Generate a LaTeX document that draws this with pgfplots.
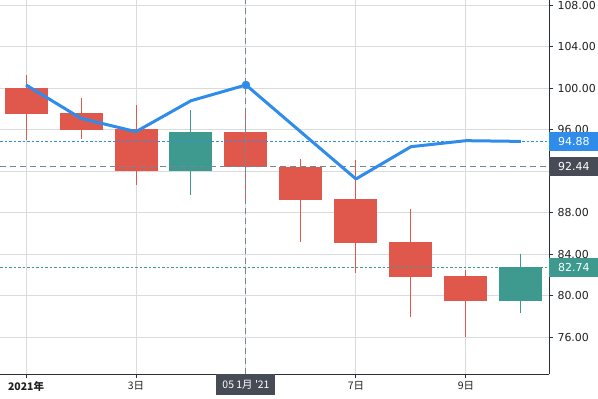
\documentclass[border=0pt]{standalone}
\usepackage{fontspec}
\setmainfont{DejaVu Sans}
\newfontfamily\cjk{Noto Sans CJK SC}
\usepackage{pgfplots}
\pgfplotsset{compat=1.18}
\definecolor{cred}{HTML}{E0574C}
\definecolor{cgreen}{HTML}{3E9A8E}
\definecolor{cblue}{HTML}{2F8CEA}
\definecolor{cross}{HTML}{758696}
\definecolor{cdark}{HTML}{464B55}
\definecolor{cgrid}{HTML}{D8DCDE}
\definecolor{caxis}{HTML}{2A2E39}
\definecolor{ctext}{HTML}{202020}
% color, day, low, body low, body high, high
\newcommand\candle[6]{%
\addplot[#1, line width=1bp, forget plot] coordinates {(#2,#3) (#2,#6)};
\addplot[#1, line width=43bp, line cap=butt, forget plot] coordinates {(#2,#4) (#2,#5)};}
\begin{document}
\begin{tikzpicture}
\useasboundingbox (0,0) rectangle (598bp,399bp);
\begin{axis}[
  at={(0,25bp)}, anchor=south west, scale only axis,
  width=549bp, height=374bp,
  xmin=0.527, xmax=10.51, ymin=72.46, ymax=108.51,
  axis x line*=bottom, axis y line*=right,
  axis line style={caxis, line width=1bp},
  xtick={1,3,5,7,9},
  xticklabels={{\bfseries 2021年},{3日},{},{7日},{9日}},
  xticklabel style={font=\cjk\fontsize{10.5}{12}\selectfont, text=ctext},
  ytick={76,80,...,108},
  yticklabels={76.00,80.00,84.00,88.00,,96.00,100.00,104.00,108.00},
  yticklabel style={font=\fontsize{11}{13}\selectfont, text=ctext, anchor=west, xshift=1bp},
  grid=major, major grid style={cgrid, line width=1bp},
  tick style={caxis, line width=1bp}, tick align=outside, major tick length=4bp,
]
\candle{cred}{1}{95.02}{97.55}{100.00}{101.28}
\candle{cred}{2}{95.11}{95.98}{97.65}{99.07}
\candle{cred}{3}{90.68}{92.03}{96.08}{98.39}
\candle{cgreen}{4}{89.72}{92.03}{95.79}{97.90}
\candle{cred}{5}{88.80}{92.44}{95.79}{97.60}
\candle{cred}{6}{85.22}{89.23}{92.44}{93.19}
\candle{cred}{7}{82.23}{85.12}{89.33}{93.09}
\candle{cred}{8}{77.99}{81.84}{85.19}{88.37}
\candle{cred}{9}{76.06}{79.50}{81.94}{82.49}
\candle{cgreen}{10}{78.37}{79.50}{82.74}{84.03}
% price lines
\addplot[draw=cblue, line width=1.6bp, line cap=butt, dash pattern=on 2.5bp off 2bp] coordinates {(0.527,94.88) (10.51,94.88)};
\addplot[draw=cgreen, line width=1.6bp, line cap=butt, dash pattern=on 2.5bp off 2bp] coordinates {(0.527,82.74) (10.51,82.74)};
% crosshair
\addplot[draw=cross, line width=1bp, dash pattern=on 6bp off 4bp] coordinates {(0.527,92.44) (10.51,92.44)};
\addplot[draw=cross, line width=1bp, dash pattern=on 6bp off 4bp] coordinates {(5,72.46) (5,108.51)};
% line series
\addplot[cblue, line width=3bp, line join=round] coordinates {(1,100.32)(2,97.10)(3,95.82)(4,98.80)(5,100.32)(6,95.78)(7,91.26)(8,94.37)(9,94.95)(10,94.88)};
\addplot[cblue, only marks, mark=*, mark size=4bp] coordinates {(5,100.32)};
\coordinate (pb) at (axis cs:10.51,94.88);
\coordinate (pd) at (axis cs:10.51,92.44);
\coordinate (pg) at (axis cs:10.51,82.74);
\coordinate (xb) at (axis cs:5,72.46);
\end{axis}
\begin{scope}[every node/.style={anchor=west, text=white, minimum height=19bp, inner xsep=9bp, inner ysep=0pt, font=\fontsize{11}{13}\selectfont}]
\node[fill=cblue] at (pb) {94.88};
\node[fill=cdark] at (pd) {92.44};
\node[fill=cgreen] at (pg) {82.74};
\end{scope}
\node[fill=cdark, text=white, anchor=north, minimum height=21bp, minimum width=59bp, inner sep=0pt, font=\cjk\fontsize{10.5}{12}\selectfont] at (xb) {05 1月 '21};
\end{tikzpicture}
\end{document}
